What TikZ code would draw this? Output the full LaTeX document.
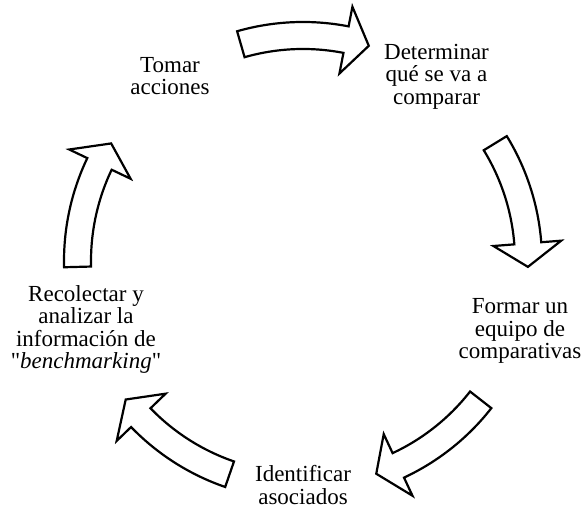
\documentclass[tikz,border=0pt]{standalone}
\usepackage{fontspec}
\setmainfont{Liberation Serif}
\usetikzlibrary{calc}

% Curved block arrow of the cycle, centred on angle #1 around (C)
\newcommand{\blockarc}[2]{%
  \draw[cyclearrow] ($(C)+(#1+16.5:239pt)$) coordinate (#2-tail)
    arc[start angle=#1+16.5, end angle=#1-10.5, radius=239pt]
    -- ($(C)+(#1-10.5:259pt)$)
    -- ($(C)+(#1-16.5:225pt)$) coordinate (#2-tip)
    -- ($(C)+(#1-10.5:191pt)$)
    -- ($(C)+(#1-10.5:212pt)$)
    arc[start angle=#1-10.5, end angle=#1+16.5, radius=212pt]
    -- cycle;}

\tikzset{
  cyclearrow/.style={draw=black, fill=white, line width=2.2pt, line join=miter},
  steptext/.style={align=center, inner sep=0pt, font=\fontsize{23}{22.5}\selectfont}
}

\begin{document}
\begin{tikzpicture}[x=1pt, y=1pt]
  \useasboundingbox (0,0) rectangle (585,510);
  \coordinate (C) at (303,249);

  % arrows between the steps
  \blockarc{89.5}{a1}
  \blockarc{15}{a2}
  \blockarc{-54.5}{a3}
  \blockarc{-125.5}{a4}
  \blockarc{165}{a5}

  % steps
  \node[steptext] (tomar) at (170,434) {Tomar\\acciones};
  \node[steptext] (determinar) at (436.5,433.6) {Determinar\\qué se va a\\comparar};
  \node[steptext] (formar) at (520,178.6) {Formar un\\equipo de\\comparativas};
  \node[steptext] (identificar) at (303,25) {Identificar\\asociados};
  \node[steptext] (recolectar) at (86,180.3) {Recolectar y\\analizar la\\información de\\\textquotedbl\textit{benchmarking}\textquotedbl};
\end{tikzpicture}
\end{document}
